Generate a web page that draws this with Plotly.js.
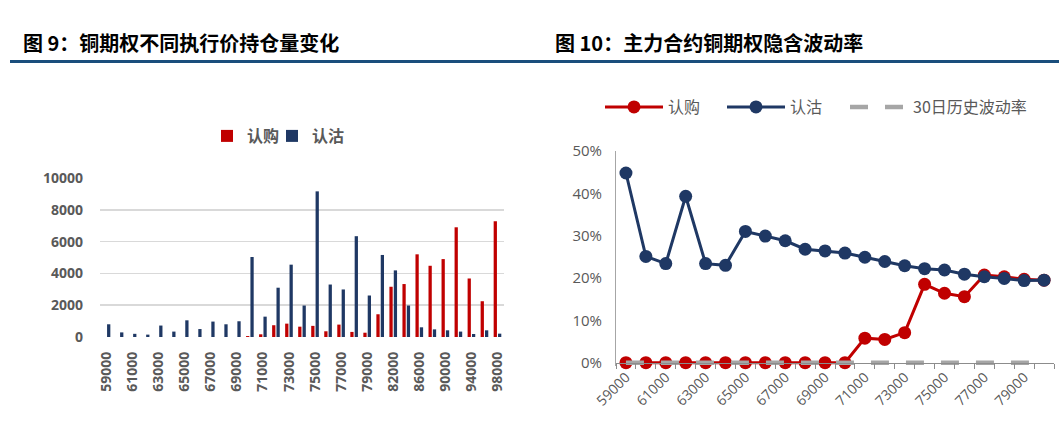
<!DOCTYPE html>
<html>
<head>
<meta charset="utf-8">
<script src="https://cdn.plot.ly/plotly-3.0.1.min.js"></script>
<style>
html,body{margin:0;padding:0;background:#fff;}
#chart{width:1059px;height:445px;}
</style>
</head>
<body>
<div id="chart"></div>
<script>
// ---- Figure 9: open interest by strike ----
const barCategories = ['59000','60000','61000','62000','63000','64000','65000','66000','67000','68000','69000','70000','71000','72000','73000','74000','75000','76000','77000','78000','79000','80000','82000','84000','86000','88000','90000','92000','94000','96000','98000'];
const barTickLabels = ['59000','61000','63000','65000','67000','69000','71000','73000','75000','77000','79000','82000','86000','90000','94000','98000'];
const oiTickVals = [0,2000,4000,6000,8000,10000];
const oiTickText = ['0','2000','4000','6000','8000','10000'];
const callOI = [0,0,0,0,0,0,0,0,0,0,0,60,170,740,840,650,700,360,780,320,270,1430,3160,3330,5200,4480,4900,6900,3680,2250,7280];
const putOI  = [800,290,200,150,720,340,1050,500,970,800,990,5030,1280,3100,4550,1980,9160,3300,2990,6340,2610,5160,4190,1980,610,480,420,340,190,420,210];

// ---- Figure 10: implied volatility ----
const ivCategories = ['59000','60000','61000','62000','63000','64000','65000','66000','67000','68000','69000','70000','71000','72000','73000','74000','75000','76000','77000','78000','79000','80000'];
const ivTickLabels = ['59000','61000','63000','65000','67000','69000','71000','73000','75000','77000','79000'];
const ivTickVals = [0,10,20,30,40,50];
const ivTickText = ['0%','10%','20%','30%','40%','50%'];
const callIV = [0,0,0,0,0,0,0,0,0,0,0,0,5.8,5.5,7.1,18.5,16.4,15.6,20.7,20.3,19.7,19.5];
const putIV  = [44.8,25.1,23.4,39.3,23.4,23.0,31.0,29.9,28.8,26.8,26.4,25.9,24.9,23.9,22.9,22.2,21.9,20.9,20.3,19.9,19.4,19.5];
const hv30   = [0,0,0,0,0,0,0,0,0,0,0,0,0,0,0,0,0,0,0,0,0,0];

const seriesNames = ['认购','认沽','30日历史波动率'];
const titles = ['图 9：铜期权不同执行价持仓量变化','图 10：主力合约铜期权隐含波动率'];

const RED = '#C00000', NAVY = '#1F3864', GRAY = '#A6A6A6', TXT = '#595959';
const W = 1059, H = 445;
const px = v => v / W, py = v => (H - v) / H;

const traces = [
  {type:'bar', name:seriesNames[0], x:barCategories, y:callOI, marker:{color:RED},
   xaxis:'x', yaxis:'y', legend:'legend'},
  {type:'bar', name:seriesNames[1], x:barCategories, y:putOI, marker:{color:NAVY},
   xaxis:'x', yaxis:'y', legend:'legend2'},
  {type:'scatter', mode:'lines+markers', name:seriesNames[0], x:ivCategories, y:callIV,
   line:{color:RED, width:3}, marker:{color:RED, size:13}, cliponaxis:false,
   xaxis:'x2', yaxis:'y2', legend:'legend3'},
  {type:'scatter', mode:'lines+markers', name:seriesNames[1], x:ivCategories, y:putIV,
   line:{color:NAVY, width:3}, marker:{color:NAVY, size:13}, cliponaxis:false,
   xaxis:'x2', yaxis:'y2', legend:'legend4'},
  {type:'scatter', mode:'lines', name:seriesNames[2], x:ivCategories, y:hv30,
   line:{color:GRAY, width:4.5, dash:'18px,17px'}, cliponaxis:false,
   xaxis:'x2', yaxis:'y2', legend:'legend5'}
];

const legLeft = (x) => ({orientation:'h', x:px(x), xanchor:'left', y:py(136), yanchor:'middle',
  font:{family:'"Noto Sans CJK SC", sans-serif', size:16, color:TXT, weight:'bold'},
  itemwidth:30, bgcolor:'rgba(0,0,0,0)'});
const legRight = (x) => ({orientation:'h', x:px(x), xanchor:'left', y:py(107), yanchor:'middle',
  font:{family:'"Noto Sans CJK SC", sans-serif', size:16, color:TXT},
  itemwidth:58, bgcolor:'rgba(0,0,0,0)'});

// right panel: 0% sits at y=362.7px, 50% at y=151px; plot area extends 3px below 0 so the dashed line is not clipped
const IV_ZERO = 362.7, IV_TOP = 151, IV_BOTTOM = 365.7;
const ivPxPerUnit = (IV_ZERO - IV_TOP) / 50;

const layout = {
  width:W, height:H,
  margin:{l:0,r:0,t:0,b:0},
  paper_bgcolor:'#fff', plot_bgcolor:'#fff',
  font:{family:'"Open Sans", "Noto Sans CJK SC", sans-serif', color:TXT},
  barmode:'group', bargap:0.33, bargroupgap:0.25,
  showlegend:true,
  xaxis:{domain:[px(100), px(504)], type:'category', categoryarray:barCategories,
    range:[-0.5, barCategories.length-0.5],
    tickmode:'array', tickvals:barTickLabels, ticktext:barTickLabels,
    tickangle:-90, ticks:'', showline:false, showgrid:false, zeroline:false,
    ticklabelstandoff:11,
    tickfont:{family:'"Open Sans", sans-serif', size:14, color:TXT, weight:'bold'},
    anchor:'y', fixedrange:true},
  yaxis:{domain:[py(337), py(178)], range:[0,10000], tickmode:'array',
    tickvals:oiTickVals, ticktext:oiTickText,
    showgrid:true, gridcolor:'#D9D9D9', gridwidth:1.5, zeroline:false, showline:false, ticks:'',
    ticklabelstandoff:16,
    tickfont:{family:'"Open Sans", sans-serif', size:14, color:TXT, weight:'bold'},
    anchor:'x', fixedrange:true},
  xaxis2:{domain:[px(616), px(1054)], type:'category', categoryarray:ivCategories,
    range:[-0.5, ivCategories.length-0.5],
    tickmode:'array', tickvals:ivCategories,
    ticktext:ivCategories.map(c => ivTickLabels.includes(c) ? c : ''),
    tickson:'boundaries', ticks:'outside', ticklen:5, tickcolor:'#8C8C8C', tickwidth:1,
    tickangle:-45, showline:true, linecolor:'#8C8C8C', linewidth:1, showgrid:false, zeroline:false,
    tickfont:{family:'"Open Sans", sans-serif', size:14, color:TXT},
    anchor:'free', position:py(IV_ZERO), fixedrange:true},
  yaxis2:{domain:[py(IV_BOTTOM), py(IV_TOP)],
    range:[-(IV_BOTTOM - IV_ZERO)/ivPxPerUnit, 50],
    tickmode:'array', tickvals:ivTickVals, ticktext:ivTickText,
    showgrid:false, zeroline:false, showline:true, linecolor:'#A6A6A6', linewidth:1, ticks:'',
    ticklabelstandoff:10,
    tickfont:{family:'"Open Sans", sans-serif', size:15, color:TXT},
    anchor:'x2', fixedrange:true},
  legend:legLeft(207),
  legend2:legLeft(272),
  legend3:legRight(600),
  legend4:legRight(722),
  legend5:legRight(845),
  annotations:[
    {xref:'paper', yref:'paper', x:px(21), y:py(43), xanchor:'left', yanchor:'middle', showarrow:false,
     text:titles[0], font:{family:'"Noto Sans CJK SC", sans-serif', size:20, color:'#000', weight:'bold'}},
    {xref:'paper', yref:'paper', x:px(553), y:py(43), xanchor:'left', yanchor:'middle', showarrow:false,
     text:titles[1], font:{family:'"Noto Sans CJK SC", sans-serif', size:20, color:'#000', weight:'bold'}}
  ],
  shapes:[
    {type:'line', xref:'paper', yref:'paper', x0:px(10), x1:1, y0:py(61.5), y1:py(61.5),
     line:{color:'#1A4E7C', width:3}}
  ]
};

Plotly.newPlot('chart', traces, layout, {staticPlot:true, displayModeBar:false});
</script>
</body>
</html>
